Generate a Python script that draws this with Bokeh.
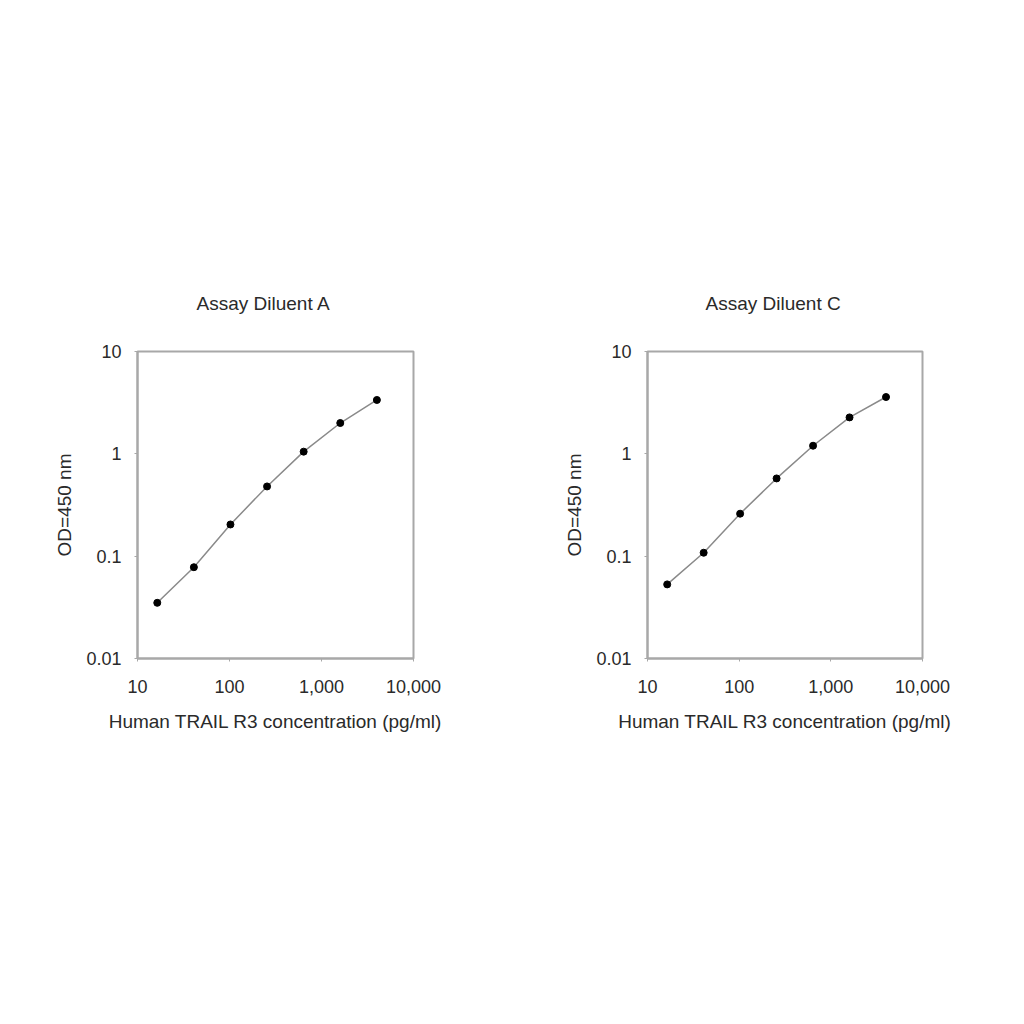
from bokeh.plotting import figure
from bokeh.layouts import row
from bokeh.models import FixedTicker, CustomJSTickFormatter
from bokeh.embed import file_html
from bokeh.resources import INLINE

# ---- data ----
concentration = [16.4, 41.0, 102.4, 256.0, 640.0, 1600.0, 4000.0]
od_diluent_a = [0.035, 0.078, 0.204, 0.48, 1.05, 2.0, 3.36]
od_diluent_c = [0.053, 0.108, 0.26, 0.575, 1.2, 2.27, 3.59]

titles = ["Assay Diluent A", "Assay Diluent C"]
x_label = "Human TRAIL R3 concentration (pg/ml)"
y_label = "OD=450 nm"
x_tick_values = [10, 100, 1000, 10000]
x_tick_labels = ["10", "100", "1,000", "10,000"]
y_tick_values = [0.01, 0.1, 1, 10]
y_tick_labels = ["0.01", "0.1", "1", "10"]

FONT = "Liberation Sans"
TXT = "#2a2a2a"
AXC = "#a8a8a8"


def fmt(vals, labs):
    return CustomJSTickFormatter(
        args=dict(vals=vals, labs=labs),
        code="""
        for (let i = 0; i < vals.length; i++) {
            if (Math.abs(Math.log10(vals[i]) - Math.log10(tick)) < 1e-6) return labs[i];
        }
        return '';
        """,
    )


def make(title, ys, left, right, fw, toff):
    p = figure(
        x_axis_type="log", y_axis_type="log",
        x_range=(10, 10000), y_range=(0.01, 10),
        frame_width=fw, frame_height=307,
        min_border_left=left, min_border_right=right,
        min_border_top=351, min_border_bottom=150,
        output_backend="svg", toolbar_location=None,
        background_fill_color="white", border_fill_color="white",
    )
    p.title.text = title
    p.title.align = "left"
    p.title.text_font = FONT
    p.title.text_font_size = "19px"
    p.title.text_font_style = "normal"
    p.title.text_color = TXT
    p.title.standoff = 75
    p.title.offset = toff

    p.grid.visible = False
    p.outline_line_color = AXC
    p.outline_line_width = 2
    p.outline_line_alpha = 1.0

    for ax in (p.xaxis[0], p.yaxis[0]):
        ax.axis_line_color = AXC
        ax.axis_line_width = 2
        ax.major_tick_line_color = AXC
        ax.major_tick_out = 3
        ax.major_tick_in = 0
        ax.minor_tick_line_color = None
        ax.major_label_text_font = FONT
        ax.major_label_text_font_size = "18px"
        ax.major_label_text_color = TXT
        ax.axis_label_text_font = FONT
        ax.axis_label_text_font_size = "19px"
        ax.axis_label_text_font_style = "normal"
        ax.axis_label_text_color = TXT

    p.xaxis.ticker = FixedTicker(ticks=x_tick_values)
    p.xaxis.formatter = fmt(x_tick_values, x_tick_labels)
    p.xaxis.major_label_standoff = 18
    p.xaxis.axis_label = x_label
    p.xaxis.axis_label_standoff = 15

    p.yaxis.ticker = FixedTicker(ticks=y_tick_values)
    p.yaxis.formatter = fmt(y_tick_values, y_tick_labels)
    p.yaxis.major_label_standoff = 13
    p.yaxis.axis_label = y_label
    p.yaxis.axis_label_standoff = 8

    p.line(concentration, ys, line_color="#8a8a8a", line_width=1.5)
    p.scatter(concentration, ys, size=7, fill_color="black", line_color="black")
    return p


p1 = make(titles[0], od_diluent_a, 137, 87, 276, 59)
p2 = make(titles[1], od_diluent_c, 147, 50, 275, 58)

layout = row(p1, p2)
open("out.html", "w").write(file_html(layout, INLINE))
